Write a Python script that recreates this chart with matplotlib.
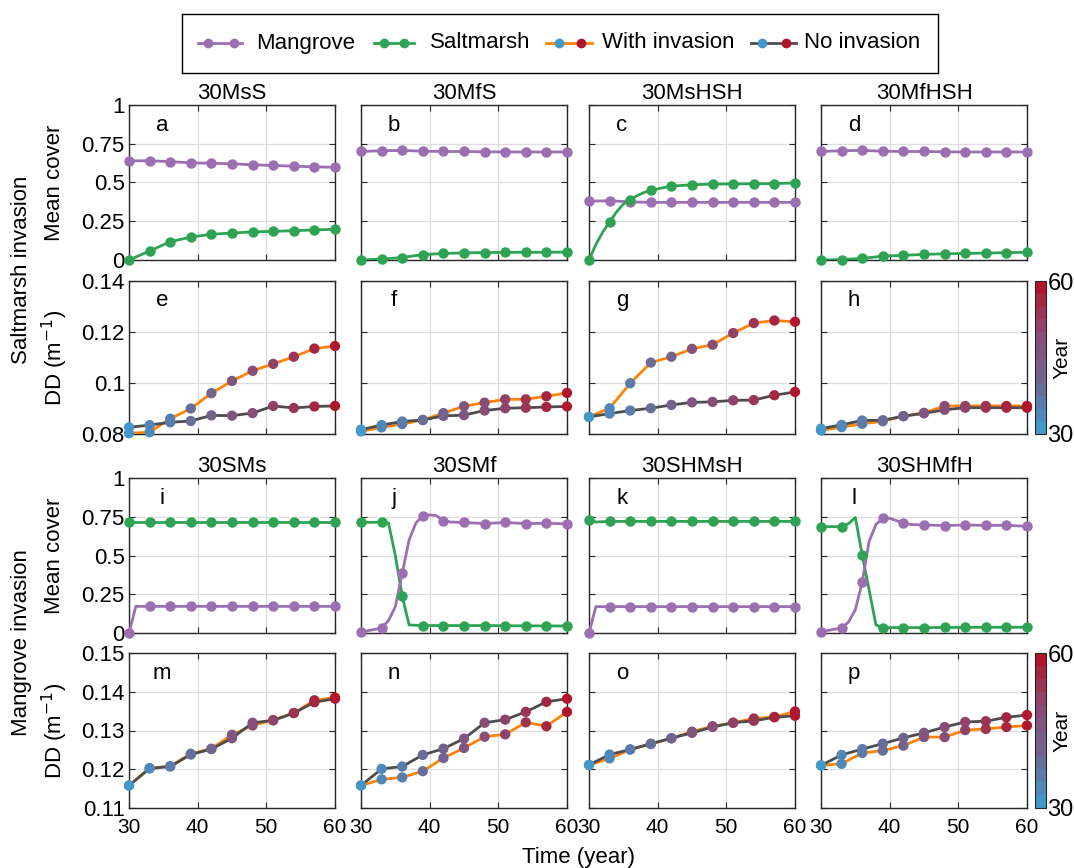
import matplotlib.pyplot as plt
import matplotlib as mpl
from matplotlib.colors import LinearSegmentedColormap, Normalize

plt.rcParams['font.family'] = ['Liberation Sans', 'DejaVu Sans']

# marker years
yr = [30, 33, 36, 39, 42, 45, 48, 51, 54, 57, 60]

# colours
c_mang = '#9b6fb1'
c_salt = '#2ea354'
c_with = '#ff8308'
c_no = '#4d4d4d'

# ---- Saltmarsh invasion: mean cover (a-d) ----
a_mang = [0.64, 0.64, 0.635, 0.627, 0.624, 0.621, 0.614, 0.61, 0.605, 0.601, 0.598]
a_salt = [0.0, 0.058, 0.118, 0.148, 0.166, 0.174, 0.181, 0.185, 0.189, 0.194, 0.198]
b_mang = [0.70, 0.705, 0.707, 0.702, 0.70, 0.70, 0.698, 0.697, 0.697, 0.697, 0.697]
b_salt = [0.0, 0.006, 0.016, 0.035, 0.042, 0.046, 0.048, 0.049, 0.05, 0.05, 0.051]
c_mang_v = [0.38, 0.382, 0.375, 0.372, 0.372, 0.372, 0.372, 0.372, 0.372, 0.372, 0.372]
c_salt_x = [30, 31, 32, 33, 34, 35, 36, 37, 38, 39, 42, 45, 48, 51, 54, 57, 60]
c_salt_v = [0.0, 0.1, 0.18, 0.245, 0.31, 0.36, 0.39, 0.415, 0.435, 0.45, 0.477,
            0.485, 0.49, 0.491, 0.492, 0.493, 0.497]
d_mang = [0.70, 0.705, 0.707, 0.702, 0.70, 0.70, 0.698, 0.697, 0.697, 0.697, 0.697]
d_salt = [0.0, 0.003, 0.01, 0.025, 0.03, 0.036, 0.04, 0.042, 0.045, 0.047, 0.05]

# ---- Mangrove invasion: mean cover (i-l) ----
step_x = [30, 31, 33, 36, 39, 42, 45, 48, 51, 54, 57, 60]
i_mang = [0.0, 0.172, 0.172, 0.172, 0.172, 0.172, 0.172, 0.172, 0.172, 0.172, 0.172, 0.172]
i_salt = [0.718, 0.718, 0.718, 0.718, 0.718, 0.718, 0.718, 0.718, 0.718, 0.718, 0.718]
j_salt_x = [30, 33, 34, 35, 36, 37, 38, 39, 42, 45, 48, 51, 54, 57, 60]
j_salt_v = [0.713, 0.715, 0.71, 0.5, 0.238, 0.052, 0.05, 0.048, 0.048, 0.048, 0.048,
            0.047, 0.046, 0.046, 0.045]
j_mang_x = [30, 33, 34, 35, 36, 37, 38, 39, 40, 41, 42, 43, 45, 48, 51, 54, 57, 60]
j_mang_v = [0.006, 0.032, 0.08, 0.17, 0.384, 0.60, 0.71, 0.756, 0.762, 0.757, 0.725,
            0.716, 0.713, 0.706, 0.713, 0.706, 0.708, 0.704]
k_mang = [0.0, 0.17, 0.17, 0.17, 0.17, 0.17, 0.17, 0.17, 0.17, 0.17, 0.17, 0.17]
k_salt = [0.732, 0.716, 0.72, 0.72, 0.72, 0.72, 0.72, 0.72, 0.72, 0.72, 0.72, 0.72]
l_salt_x = [30, 33, 34, 35, 36, 37, 38, 39, 42, 45, 48, 51, 54, 57, 60]
l_salt_v = [0.686, 0.686, 0.705, 0.745, 0.504, 0.28, 0.052, 0.035, 0.035, 0.035,
            0.036, 0.036, 0.037, 0.037, 0.037]
l_mang_x = [30, 33, 34, 35, 36, 37, 38, 39, 40, 41, 42, 43, 45, 48, 51, 54, 57, 60]
l_mang_v = [0.009, 0.032, 0.07, 0.15, 0.327, 0.59, 0.70, 0.74, 0.74, 0.725, 0.71,
            0.70, 0.697, 0.693, 0.697, 0.694, 0.695, 0.688]

# ---- DD, saltmarsh invasion (e-h) ----
e_with = [0.0803, 0.0807, 0.086, 0.090, 0.096, 0.1008, 0.1048, 0.1075, 0.1103, 0.1135, 0.1145]
e_no = [0.0826, 0.0835, 0.0846, 0.0851, 0.0873, 0.0872, 0.0882, 0.0910, 0.0902, 0.0908, 0.0910]
f_with = [0.0810, 0.0826, 0.0839, 0.0855, 0.0882, 0.0909, 0.0923, 0.0936, 0.0936, 0.0948, 0.0961]
f_no = [0.0817, 0.0835, 0.0849, 0.0855, 0.0871, 0.0874, 0.0892, 0.0901, 0.0903, 0.0906, 0.0908]
g_with = [0.0867, 0.0901, 0.0999, 0.108, 0.1103, 0.1134, 0.115, 0.1196, 0.1235, 0.1245, 0.124]
g_no = [0.0867, 0.088, 0.0892, 0.0901, 0.0914, 0.0924, 0.0926, 0.0932, 0.0933, 0.0952, 0.0965]
h_with = [0.0814, 0.0827, 0.084, 0.085, 0.087, 0.0883, 0.091, 0.091, 0.091, 0.091, 0.091]
h_no = [0.0821, 0.0836, 0.0853, 0.0854, 0.087, 0.0881, 0.0895, 0.0903, 0.0903, 0.0903, 0.0903]

# ---- DD, mangrove invasion (m-p) ----
m_with = [0.1158, 0.1203, 0.1208, 0.1240, 0.1253, 0.1289, 0.1313, 0.1327, 0.1345, 0.1378, 0.1385]
m_no = [0.1158, 0.1202, 0.1207, 0.1238, 0.1252, 0.1280, 0.1320, 0.1326, 0.1345, 0.1373, 0.1382]
n_with = [0.1158, 0.1174, 0.1179, 0.1195, 0.1229, 0.1255, 0.1284, 0.1290, 0.1321, 0.1311, 0.1348]
n_no = [0.1158, 0.1201, 0.1207, 0.1237, 0.1253, 0.1279, 0.1320, 0.1328, 0.1348, 0.1374, 0.1382]
o_with = [0.1211, 0.1228, 0.1251, 0.1265, 0.1280, 0.1297, 0.1311, 0.1320, 0.1331, 0.1335, 0.1349]
o_no = [0.1211, 0.1238, 0.1251, 0.1266, 0.1280, 0.1294, 0.1309, 0.1320, 0.1325, 0.1334, 0.1338]
p_with = [0.1210, 0.1214, 0.1242, 0.1248, 0.1261, 0.1283, 0.1283, 0.1301, 0.1304, 0.1309, 0.1313]
p_no = [0.1210, 0.1237, 0.1252, 0.1266, 0.1281, 0.1294, 0.1309, 0.1322, 0.1324, 0.1334, 0.1340]

titles_top = ['30MsS', '30MfS', '30MsHSH', '30MfHSH']
titles_bot = ['30SMs', '30SMf', '30SHMsH', '30SHMfH']
letters = list('abcdefghijklmnop')

cmap = LinearSegmentedColormap.from_list('yr', ['#4497c9', '#6f6590', '#8a4c76', '#b1172c'], N=12)
norm = Normalize(30, 60)

W, H = 1074, 868
fig = plt.figure(figsize=(W / 100, H / 100), dpi=100)

col_left = [129, 361, 589, 821]
row_top = [105, 281, 478, 653]
row_h = [155, 153, 155, 155]
aw = 206
FS = 16

def px_axes(l, t, w, h):
    return fig.add_axes([l / W, 1 - (t + h) / H, w / W, h / H])

def style(ax, row, col):
    ax.set_xlim(30, 60)
    ax.set_xticks([30, 40, 50, 60])
    ax.grid(True, color='#dedede', lw=0.9)
    ax.set_axisbelow(True)
    ax.tick_params(direction='in', top=True, right=True, length=4, labelsize=FS,
                   color='#262626')
    ax.tick_params(axis='x', pad=7, labelsize=FS - 1)
    ax.tick_params(axis='y', pad=3)
    for s in ax.spines.values():
        s.set_color('#262626')
        s.set_linewidth(1.0)
    if row in (0, 2):
        ax.set_ylim(0, 1)
        ax.set_yticks([0, 0.25, 0.5, 0.75, 1])
        ax.set_yticklabels(['0', '0.25', '0.5', '0.75', '1'])
    elif row == 1:
        ax.set_ylim(0.08, 0.14)
        ax.set_yticks([0.08, 0.10, 0.12, 0.14])
        ax.set_yticklabels(['0.08', '0.1', '0.12', '0.14'])
    else:
        ax.set_ylim(0.11, 0.15)
        ax.set_yticks([0.11, 0.12, 0.13, 0.14, 0.15])
        ax.set_yticklabels(['0.11', '0.12', '0.13', '0.14', '0.15'])
    if row != 3:
        ax.set_xticklabels([])
    if col != 0:
        ax.set_yticklabels([])
    ax.text(0.16, 0.87, letters[row * 4 + col], transform=ax.transAxes,
            ha='center', va='center', fontsize=FS)

def cover(ax, x, y, c):
    ax.plot(x, y, color=c, lw=2, zorder=3)
    mx = [a for a in x if a in yr]
    my = [b for a, b in zip(x, y) if a in yr]
    ax.plot(mx, my, 'o', color=c, ms=6.5, zorder=4, clip_on=False)

def dd(ax, y, c):
    ax.plot(yr, y, color=c, lw=2, zorder=3)
    ax.scatter(yr, y, c=yr, cmap=cmap, norm=norm, s=55, zorder=4, clip_on=False,
               linewidths=0)

cover_sets = [
    [(yr, a_mang, c_mang), (yr, a_salt, c_salt)],
    [(yr, b_mang, c_mang), (yr, b_salt, c_salt)],
    [(yr, c_mang_v, c_mang), (c_salt_x, c_salt_v, c_salt)],
    [(yr, d_mang, c_mang), (yr, d_salt, c_salt)],
]
cover_sets2 = [
    [(yr, i_salt, c_salt), (step_x, i_mang, c_mang)],
    [(j_salt_x, j_salt_v, c_salt), (j_mang_x, j_mang_v, c_mang)],
    [(step_x, k_salt, c_salt), (step_x, k_mang, c_mang)],
    [(l_salt_x, l_salt_v, c_salt), (l_mang_x, l_mang_v, c_mang)],
]
dd_sets = [[(e_with, e_no), (f_with, f_no), (g_with, g_no), (h_with, h_no)],
           [(m_with, m_no), (n_with, n_no), (o_with, o_no), (p_with, p_no)]]

for col in range(4):
    ax = px_axes(col_left[col], row_top[0], aw, row_h[0])
    for x, y, c in cover_sets[col]:
        cover(ax, x, y, c)
    style(ax, 0, col)
    ax.set_title(titles_top[col], fontsize=FS, pad=4)

    ax = px_axes(col_left[col], row_top[1], aw, row_h[1])
    w, n = dd_sets[0][col]
    dd(ax, w, c_with)
    dd(ax, n, c_no)
    style(ax, 1, col)

    ax = px_axes(col_left[col], row_top[2], aw, row_h[2])
    for x, y, c in cover_sets2[col]:
        cover(ax, x, y, c)
    style(ax, 2, col)
    ax.set_title(titles_bot[col], fontsize=FS, pad=4)

    ax = px_axes(col_left[col], row_top[3], aw, row_h[3])
    w, n = dd_sets[1][col]
    dd(ax, w, c_with)
    dd(ax, n, c_no)
    style(ax, 3, col)

# colorbars
for r in (1, 3):
    cax = px_axes(1035, row_top[r], 11, row_h[r])
    cb = mpl.colorbar.ColorbarBase(cax, cmap=cmap, norm=norm, ticks=[30, 60])
    cb.outline.set_edgecolor('#262626')
    cax.tick_params(length=0, labelsize=FS + 1, pad=1)
    cax.set_yticklabels(['30', '60'])
    cb.set_label('Year', fontsize=FS - 1, labelpad=-15)

# row/axis labels
for r in (0, 2):
    fig.text(55 / W, 1 - (row_top[r] + row_h[r] / 2) / H, 'Mean cover', rotation=90,
             ha='center', va='center', fontsize=FS)
for r in (1, 3):
    fig.text(55 / W, 1 - (row_top[r] + row_h[r] / 2) / H, 'DD (m$^{-1}$)', rotation=90,
             ha='center', va='center', fontsize=FS)
fig.text(22 / W, 1 - 270 / H, 'Saltmarsh invasion', rotation=90, ha='center',
         va='center', fontsize=FS)
fig.text(22 / W, 1 - 643 / H, 'Mangrove invasion', rotation=90, ha='center',
         va='center', fontsize=FS)
fig.text(578 / W, 1 - 857 / H, 'Time (year)', ha='center', va='center', fontsize=FS)

# legend box
lg = px_axes(182, 14, 756, 59)
lg.set_xlim(182, 938)
lg.set_ylim(73, 14)
lg.set_xticks([])
lg.set_yticks([])
for s in lg.spines.values():
    s.set_linewidth(1.0)
yl = 43
# (line start, line end, marker 1, marker 2, text x) in legend pixels
entries = [((198, 242, 208, 234, 256), c_mang, c_mang, c_mang, 'Mangrove'),
           ((374, 414, 384, 404, 430), c_salt, c_salt, c_salt, 'Saltmarsh'),
           ((546, 592, 559, 581, 602), c_with, '#4497c9', '#b1172c', 'With invasion'),
           ((751, 796, 762, 786, 804), c_no, '#4497c9', '#b1172c', 'No invasion')]
for (x0, x1, p1, p2, xt), lc, m1, m2, lab in entries:
    lg.plot([x0, x1], [yl, yl], color=lc, lw=2)
    lg.plot([p1], [yl], 'o', color=m1, ms=6)
    lg.plot([p2], [yl], 'o', color=m2, ms=6)
    lg.text(xt, yl, lab, ha='left', va='center', fontsize=16)

fig.savefig('out.png', dpi=100)
